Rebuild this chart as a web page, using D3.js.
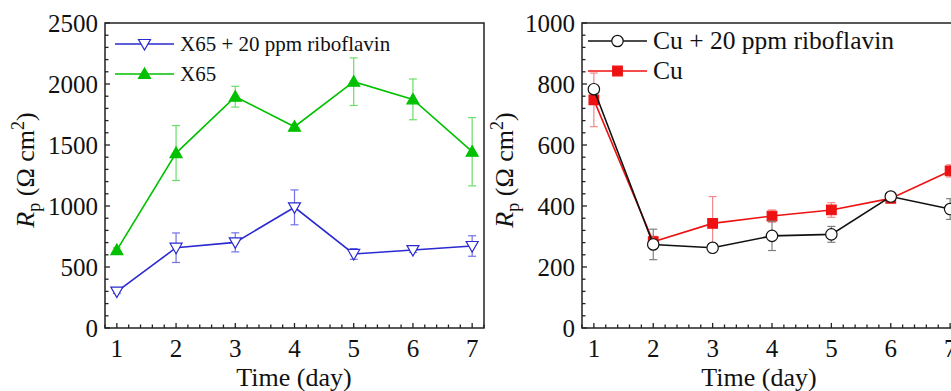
<!DOCTYPE html>
<html>
<head>
<meta charset="utf-8">
<script src="https://cdn.jsdelivr.net/npm/d3@7"></script>
<style>
  html, body { margin: 0; padding: 0; background: #fff; }
  svg { display: block; font-family: "Liberation Serif", "Times New Roman", serif; }
</style>
</head>
<body>
<svg id="chart" width="951" height="391"></svg>
<script>
// data
const days = [1, 2, 3, 4, 5, 6, 7];

const x65Rib = [298, 658, 702, 989, 607, 639, 672];
const x65RibErr = [15, 121, 78, 143, 44, 20, 84];
const x65 = [639, 1434, 1896, 1650, 2019, 1874, 1445];
const x65Err = [18, 225, 85, 15, 195, 167, 280];

const cuRib = [783, 274, 263, 302, 307, 431, 390];
const cuRibErr = [10, 50, 8, 48, 26, 8, 34];
const cu = [748, 283, 343, 367, 387, 425, 515];
const cuErr = [88, 18, 88, 20, 24, 12, 20];

const leftTicks = [0, 500, 1000, 1500, 2000, 2500];
const rightTicks = [0, 200, 400, 600, 800, 1000];

const svg = d3.select("#chart");

const panels = [
  {
    left: 105, right: 484, top: 23, bottom: 328,
    yMax: 2500, yTicks: leftTicks, yMinor: 100,
    labelX: 34, titleX: 294, legX: 115, legY: 44, legFont: 21,
    series: [
      { name: "X65 + 20 ppm riboflavin", values: x65Rib, err: x65RibErr, color: "#2a2ad0", errColor: "#7272ea", marker: "tri-down", fill: "#fff" },
      { name: "X65", values: x65, err: x65Err, color: "#00c000", errColor: "#6ade6a", marker: "tri-up", fill: "#00c000" }
    ],
    drawOrder: [1, 0]
  },
  {
    left: 582, right: 962, top: 23, bottom: 328,
    yMax: 1000, yTicks: rightTicks, yMinor: 40,
    labelX: 513, titleX: 759, legX: 588, legY: 41, legFont: 25.5,
    series: [
      { name: "Cu + 20 ppm riboflavin", values: cuRib, err: cuRibErr, color: "#111", errColor: "#808080", marker: "circle", fill: "#fff" },
      { name: "Cu", values: cu, err: cuErr, color: "#ee1111", errColor: "#f28a8a", marker: "square", fill: "#ee1111" }
    ],
    drawOrder: [1, 0]
  }
];

const markerPath = (type, size) => {
  const s = size;
  if (type === "tri-down") return `M${-s},${-s * 0.75}L${s},${-s * 0.75}L0,${s}Z`;
  if (type === "tri-up") return `M${-s},${s * 0.75}L${s},${s * 0.75}L0,${-s}Z`;
  if (type === "square") return `M${-s * 0.8},${-s * 0.8}h${s * 1.6}v${s * 1.6}h${-s * 1.6}Z`;
  return d3.symbol(d3.symbolCircle, Math.PI * (s * 0.95) * (s * 0.95))();
};

panels.forEach(p => {
  const x = d3.scaleLinear().domain([0.8, 7.2]).range([p.left, p.right]);
  const y = d3.scaleLinear().domain([0, p.yMax]).range([p.bottom, p.top]);
  const g = svg.append("g");

  // minor + major ticks, pointing inward
  const xMinor = d3.range(0.8, 7.21, 0.2);
  g.selectAll(".xminor").data(xMinor).enter().append("line")
    .attr("x1", d => x(d)).attr("x2", d => x(d))
    .attr("y1", p.bottom).attr("y2", d => Math.abs(d - Math.round(d)) < 0.01 ? p.bottom - 5 : p.bottom - 3.5)
    .attr("stroke", "#222").attr("stroke-width", 1.3);
  const yMinor = d3.range(0, p.yMax + 1, p.yMinor);
  g.selectAll(".yminor").data(yMinor).enter().append("line")
    .attr("y1", d => y(d)).attr("y2", d => y(d))
    .attr("x1", p.left).attr("x2", d => p.yTicks.includes(d) ? p.left + 5 : p.left + 3.5)
    .attr("stroke", "#222").attr("stroke-width", 1.3);

  // frame
  g.append("rect")
    .attr("x", p.left).attr("y", p.top)
    .attr("width", p.right - p.left).attr("height", p.bottom - p.top)
    .attr("fill", "none").attr("stroke", "#222").attr("stroke-width", 1.5);

  // tick labels
  g.selectAll(".xl").data(days).enter().append("text")
    .attr("x", d => x(d)).attr("y", p.bottom + 29)
    .attr("text-anchor", "middle").attr("font-size", 25).attr("fill", "#111")
    .text(d => d);
  g.selectAll(".yl").data(p.yTicks).enter().append("text")
    .attr("x", p.left - 7).attr("y", d => y(d) + 8.5)
    .attr("text-anchor", "end").attr("font-size", 25).attr("fill", "#111")
    .text(d => d);

  // axis titles
  g.append("text")
    .attr("x", p.titleX).attr("y", 386)
    .attr("text-anchor", "middle").attr("font-size", 26).attr("fill", "#111")
    .text("Time (day)");
  const yl = g.append("text")
    .attr("transform", `translate(${p.labelX},170) rotate(-90)`)
    .attr("text-anchor", "middle").attr("font-size", 26).attr("fill", "#111");
  yl.append("tspan").attr("font-style", "italic").text("R");
  yl.append("tspan").attr("font-size", 18).attr("dy", 6).text("p");
  yl.append("tspan").attr("dy", -6).text(" (\u03A9 cm");
  yl.append("tspan").attr("font-size", 18).attr("dy", -10).text("2");
  yl.append("tspan").attr("dy", 10).text(")");

  // series
  p.drawOrder.forEach(i => {
    const s = p.series[i];
    const sg = g.append("g");
    const pts = days.map((d, k) => ({ d, v: s.values[k], e: s.err[k] }));
    const bars = sg.selectAll(".err").data(pts).enter().append("g").attr("stroke", s.errColor).attr("stroke-width", 1.2);
    bars.append("line").attr("x1", d => x(d.d)).attr("x2", d => x(d.d))
      .attr("y1", d => y(d.v - d.e)).attr("y2", d => y(d.v + d.e));
    bars.append("line").attr("x1", d => x(d.d) - 4).attr("x2", d => x(d.d) + 4)
      .attr("y1", d => y(d.v - d.e)).attr("y2", d => y(d.v - d.e));
    bars.append("line").attr("x1", d => x(d.d) - 4).attr("x2", d => x(d.d) + 4)
      .attr("y1", d => y(d.v + d.e)).attr("y2", d => y(d.v + d.e));
    sg.append("path").datum(pts)
      .attr("d", d3.line().x(d => x(d.d)).y(d => y(d.v)))
      .attr("fill", "none").attr("stroke", s.color).attr("stroke-width", 1.6);
    sg.selectAll(".mk").data(pts).enter().append("path")
      .attr("transform", d => `translate(${x(d.d)},${y(d.v)})`)
      .attr("d", markerPath(s.marker, 6))
      .attr("fill", s.fill).attr("stroke", s.color).attr("stroke-width", 1.2);
  });

  // legend
  p.series.forEach((s, i) => {
    const ly = p.legY + i * 30;
    const lg = g.append("g");
    lg.append("line").attr("x1", p.legX).attr("x2", p.legX + 59)
      .attr("y1", ly).attr("y2", ly).attr("stroke", s.color).attr("stroke-width", 1.6);
    lg.append("path").attr("transform", `translate(${p.legX + 29.5},${ly})`)
      .attr("d", markerPath(s.marker, 6))
      .attr("fill", s.fill).attr("stroke", s.color).attr("stroke-width", 1.2);
    lg.append("text").attr("x", p.legX + 65).attr("y", ly + p.legFont * 0.33)
      .attr("font-size", p.legFont).attr("fill", "#111").text(s.name);
  });
});
</script>
</body>
</html>
